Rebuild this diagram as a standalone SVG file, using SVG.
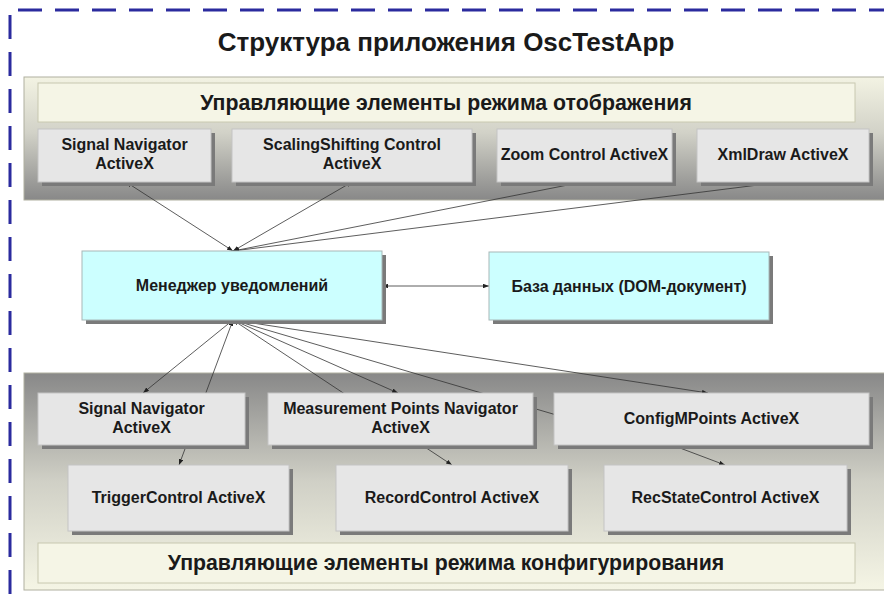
<svg xmlns="http://www.w3.org/2000/svg" width="884" height="594" viewBox="0 0 884 594">
<style>
.t{font-family:"Liberation Sans",Arial,sans-serif;font-weight:bold;fill:#1a1a1a;text-anchor:middle}
.n{font-size:16px}
.h{font-size:21.3px}
.box{fill:#e6e6e6;stroke:#c4c4c4;stroke-width:1}
.cyan{fill:#ccffff;stroke:#a8b8b8;stroke-width:1}
.sh{fill:#7a7a7a}
.hdr{fill:#f5f5e6;stroke:#c8c8b0;stroke-width:1}
.c{fill:none;stroke:#333;stroke-width:0.8;marker-start:url(#ah);marker-end:url(#ah)}
</style>
<defs>
<linearGradient id="gTop" x1="0" y1="0" x2="0" y2="1">
<stop offset="0" stop-color="#f3f3e3"/>
<stop offset="0.45" stop-color="#d2d2c8"/>
<stop offset="1" stop-color="#888888"/>
</linearGradient>
<linearGradient id="gBot" x1="0" y1="0" x2="0" y2="1">
<stop offset="0" stop-color="#888888"/>
<stop offset="0.5" stop-color="#d0d0c6"/>
<stop offset="1" stop-color="#f5f5e5"/>
</linearGradient>
<marker id="ah" viewBox="0 0 8 6" refX="8" refY="3" markerWidth="6" markerHeight="4.5" markerUnits="userSpaceOnUse" orient="auto-start-reverse">
<path d="M0,0 L8,3 L0,6 Z" fill="#222"/>
</marker>
</defs>
<rect x="0" y="0" width="884" height="594" fill="#ffffff"/>
<path d="M10,594 L10,10 L884,10" fill="none" stroke="#2b2b9e" stroke-width="3" stroke-dasharray="24 13"/>
<text class="t" x="446" y="51" style="font-size:26px">Структура приложения OscTestApp</text>

<g id="panel-top">
<rect x="24" y="77" width="862" height="123" fill="url(#gTop)" stroke="#b0b0a0" stroke-width="1"/>
<rect class="hdr" x="38" y="83" width="817" height="39"/>
<text class="t h" x="446" y="110">Управляющие элементы режима отображения</text>
</g>
<g id="panel-bottom">
<rect x="24" y="373" width="862" height="217" fill="url(#gBot)" stroke="#b0b0a0" stroke-width="1"/>
<rect class="hdr" x="38" y="543" width="817" height="40"/>
<text class="t h" x="446" y="570">Управляющие элементы режима конфигурирования</text>
</g>

<g id="connectors">
<line class="c" x1="233" y1="251" x2="126" y2="182"/>
<line class="c" x1="233" y1="251" x2="352" y2="182"/>
<line class="c" x1="233" y1="251" x2="583" y2="182"/>
<line class="c" x1="233" y1="251" x2="782" y2="182"/>
<line class="c" x1="382" y1="286" x2="489" y2="286"/>
<line class="c" x1="233" y1="320" x2="143" y2="393"/>
<line class="c" x1="233" y1="320" x2="179" y2="465"/>
<line class="c" x1="233" y1="320" x2="452" y2="465"/>
<line class="c" x1="233" y1="320" x2="398" y2="393"/>
<line class="c" x1="233" y1="320" x2="708" y2="393"/>
<polyline class="c" points="233,320 553,414 672,445 725,465"/>
</g>

<g id="n-signal-nav-top">
<rect class="sh" x="42" y="133" width="173" height="53"/>
<rect class="box" x="38" y="129" width="173" height="53"/>
<text class="t n" x="124.5" y="150">Signal Navigator</text>
<text class="t n" x="124.5" y="169">ActiveX</text>
</g>
<g id="n-scaling">
<rect class="sh" x="236" y="133" width="240" height="53"/>
<rect class="box" x="232" y="129" width="240" height="53"/>
<text class="t n" x="352" y="150">ScalingShifting Control</text>
<text class="t n" x="352" y="169">ActiveX</text>
</g>
<g id="n-zoom">
<rect class="sh" x="501" y="133" width="175" height="53"/>
<rect class="box" x="497" y="129" width="175" height="53"/>
<text class="t n" x="584.5" y="160">Zoom Control ActiveX</text>
</g>
<g id="n-xmldraw">
<rect class="sh" x="701" y="133" width="172" height="53"/>
<rect class="box" x="697" y="129" width="172" height="53"/>
<text class="t n" x="783" y="160">XmlDraw ActiveX</text>
</g>

<g id="n-manager">
<rect class="sh" x="86" y="255" width="300" height="69"/>
<rect class="cyan" x="82" y="251" width="300" height="69"/>
<text class="t n" x="232" y="291">Менеджер уведомлений</text>
</g>
<g id="n-db">
<rect class="sh" x="493" y="256" width="280" height="68"/>
<rect class="cyan" x="489" y="252" width="280" height="68"/>
<text class="t n" x="629" y="292">База данных (DOM-документ)</text>
</g>

<g id="n-signal-nav-bot">
<rect class="sh" x="42" y="397" width="207" height="52"/>
<rect class="box" x="38" y="393" width="207" height="52"/>
<text class="t n" x="141.5" y="414">Signal Navigator</text>
<text class="t n" x="141.5" y="433">ActiveX</text>
</g>
<g id="n-mpn">
<rect class="sh" x="272" y="397" width="265" height="52"/>
<rect class="box" x="268" y="393" width="265" height="52"/>
<text class="t n" x="400.5" y="414">Measurement Points Navigator</text>
<text class="t n" x="400.5" y="433">ActiveX</text>
</g>
<g id="n-configm">
<rect class="sh" x="558" y="397" width="315" height="52"/>
<rect class="box" x="554" y="393" width="315" height="52"/>
<text class="t n" x="711.5" y="424">ConfigMPoints ActiveX</text>
</g>
<g id="n-trigger">
<rect class="sh" x="72" y="469" width="221" height="66"/>
<rect class="box" x="68" y="465" width="221" height="66"/>
<text class="t n" x="178.5" y="503">TriggerControl ActiveX</text>
</g>
<g id="n-record">
<rect class="sh" x="340" y="469" width="232" height="66"/>
<rect class="box" x="336" y="465" width="232" height="66"/>
<text class="t n" x="452" y="503">RecordControl ActiveX</text>
</g>
<g id="n-recstate">
<rect class="sh" x="608" y="469" width="243" height="66"/>
<rect class="box" x="604" y="465" width="243" height="66"/>
<text class="t n" x="725.5" y="503">RecStateControl ActiveX</text>
</g>
</svg>
